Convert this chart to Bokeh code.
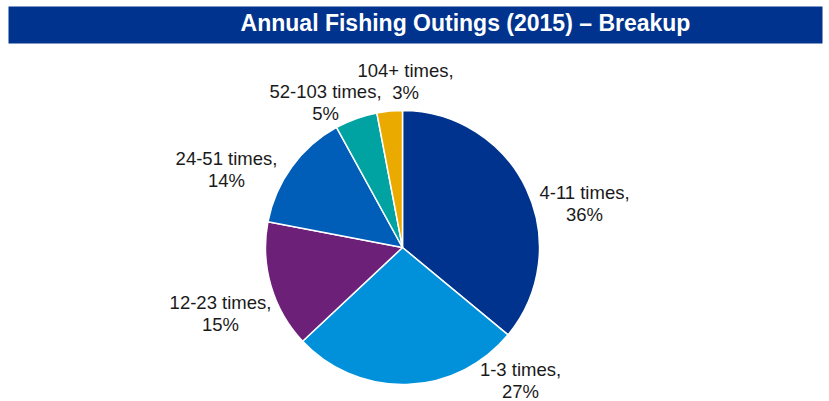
import math
from bokeh.plotting import figure
from bokeh.models import ColumnDataSource, Range1d
from bokeh.core.properties import value
from bokeh.embed import file_html
from bokeh.resources import INLINE

# ---- data ----
categories = ["4-11 times", "1-3 times", "12-23 times", "24-51 times", "52-103 times", "104+ times"]
shares = [36, 27, 15, 14, 5, 3]
colors = ["#00338D", "#0091DA", "#6D2077", "#005EB8", "#00A3A1", "#EAAA00"]
title = "Annual Fishing Outings (2015) \u2013 Breakup"

# ---- layout (pixels from top-left) ----
W, H = 829, 401
cx, cy, r = 402, 247, 137
label_x = [584, 520, 220, 226, 325, 405]
label_y = [192, 369, 302, 158, 91, 70]
line_gap = 22

total = sum(shares)
starts, ends = [], []
cum = 0.0
for s in shares:
    starts.append(math.pi / 2 - 2 * math.pi * cum / total)
    cum += s
    ends.append(math.pi / 2 - 2 * math.pi * cum / total)

src = ColumnDataSource(dict(start=starts, end=ends, color=colors, cat=categories))

p = figure(width=W, height=H, x_range=Range1d(0, W), y_range=Range1d(0, H),
           toolbar_location=None, output_backend="svg", min_border=0,
           x_axis_location=None, y_axis_location=None)
p.grid.visible = False
p.outline_line_color = None
p.background_fill_color = "white"
p.border_fill_color = "white"

# title bar
p.quad(left=[8], right=[822], bottom=[H - 43], top=[H - 6], fill_color="#00338D", line_color=None)
p.text(x=[465], y=[H - 22], text=[title], text_font=value("Liberation Sans"),
       text_font_style="bold", text_font_size="23px", text_color="white",
       text_align="center", text_baseline="alphabetic")

# pie
p.wedge(x=cx, y=H - cy, radius=r, start_angle="start", end_angle="end", direction="clock",
        fill_color="color", line_color="white", line_width=1.5, source=src)

# labels
line1 = [c + "," for c in categories]
line2 = [f"{s}%" for s in shares]
p.text(x=label_x, y=[H - y for y in label_y], text=line1, text_font=value("Liberation Sans"),
       text_font_size="18.5px", text_color="#1a1a1a", text_align="center", text_baseline="alphabetic")
p.text(x=label_x, y=[H - y - line_gap for y in label_y], text=line2, text_font=value("Liberation Sans"),
       text_font_size="18.5px", text_color="#1a1a1a", text_align="center", text_baseline="alphabetic")

open("out.html", "w").write(file_html(p, INLINE))
